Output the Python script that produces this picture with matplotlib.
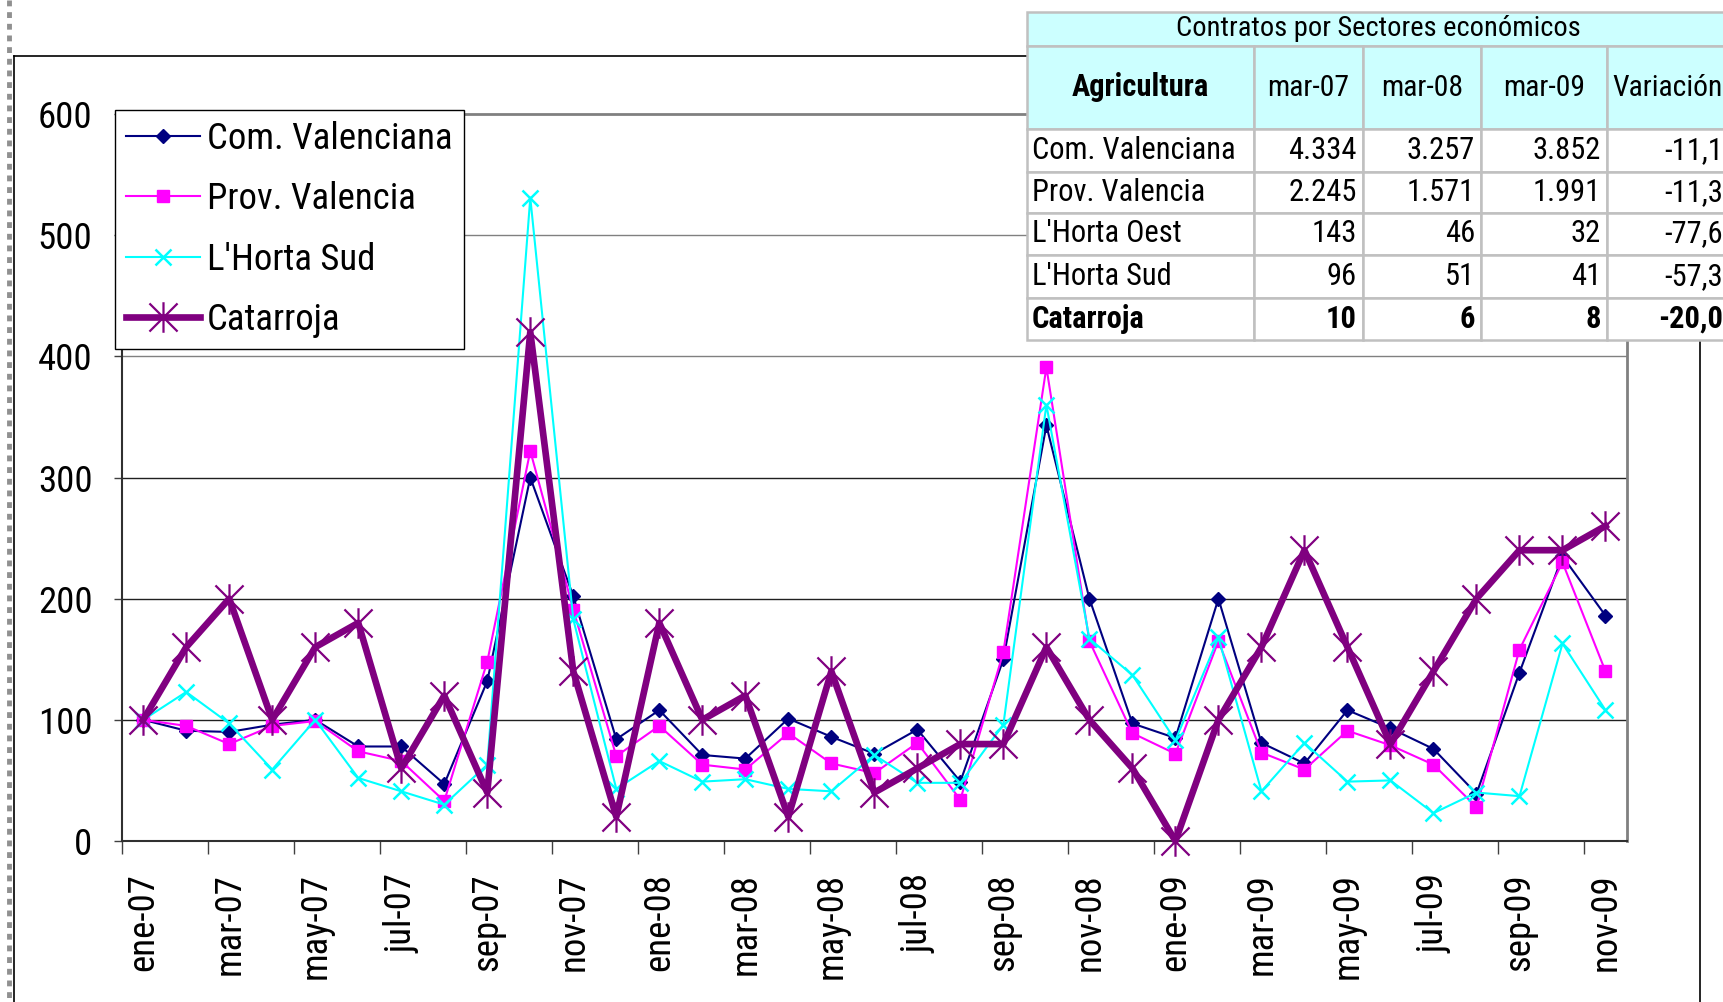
import matplotlib
matplotlib.use("Agg")
import matplotlib.pyplot as plt
from matplotlib import font_manager as fm
from matplotlib.path import Path
from matplotlib.patches import Rectangle
from matplotlib.lines import Line2D
import numpy as np

# ---------------- data ----------------
months = ["ene-07", "feb-07", "mar-07", "abr-07", "may-07", "jun-07", "jul-07", "ago-07",
          "sep-07", "oct-07", "nov-07", "dic-07",
          "ene-08", "feb-08", "mar-08", "abr-08", "may-08", "jun-08", "jul-08", "ago-08",
          "sep-08", "oct-08", "nov-08", "dic-08",
          "ene-09", "feb-09", "mar-09", "abr-09", "may-09", "jun-09", "jul-09", "ago-09",
          "sep-09", "oct-09", "nov-09"]

com_valenciana = [100, 91, 90, 96, 100, 78, 78, 47, 132, 300, 202, 84,
                  108, 71, 68, 101, 86, 72, 92, 49, 150, 343, 200, 97,
                  85, 200, 81, 64, 108, 93, 76, 39, 139, 235, 186]
prov_valencia = [100, 95, 80, 95, 99, 74, 66, 33, 148, 322, 191, 70,
                 95, 63, 59, 89, 64, 56, 81, 34, 156, 391, 165, 89,
                 72, 165, 73, 59, 91, 79, 63, 28, 158, 230, 140]
horta_sud = [100, 123, 97, 59, 100, 52, 41, 30, 63, 531, 183, 43,
             66, 49, 51, 43, 41, 71, 48, 48, 96, 360, 167, 137,
             83, 168, 41, 81, 49, 50, 23, 40, 37, 163, 108]
catarroja = [100, 160, 200, 100, 160, 180, 60, 120, 40, 420, 140, 20,
             180, 100, 120, 20, 140, 40, 60, 80, 80, 160, 100, 60,
             0, 100, 160, 240, 160, 80, 140, 200, 240, 240, 260]

series_names = ["Com. Valenciana", "Prov. Valencia", "L'Horta Sud", "Catarroja"]
y_ticks = [0, 100, 200, 300, 400, 500, 600]

table_title = "Contratos por Sectores económicos"
table_header = ["Agricultura", "mar-07", "mar-08", "mar-09", "Variación"]
table_rows = ["Com. Valenciana", "Prov. Valencia", "L'Horta Oest", "L'Horta Sud", "Catarroja"]
col_mar07 = ["4.334", "2.245", "143", "96", "10"]
col_mar08 = ["3.257", "1.571", "46", "51", "6"]
col_mar09 = ["3.852", "1.991", "32", "41", "8"]
col_var = ["-11,1", "-11,3", "-77,6", "-57,3", "-20,0"]

# ---------------- font: prefer a narrow / condensed sans ----------------
def find_condensed():
    prefs = ['Liberation Sans Narrow', 'Arial Narrow', 'Roboto Condensed', 'Noto Sans',
             'Open Sans', 'Roboto', 'DejaVu Sans', 'Lato', 'Inter']
    cond = []
    for f in fm.fontManager.ttflist:
        st = str(f.stretch).lower()
        nm = f.name
        fn = f.fname.lower()
        if ('condensed' in st or 'narrow' in nm.lower() or 'condensed' in nm.lower()
                or 'condensed' in fn or 'narrow' in fn):
            if 'extra' in st or 'ultra' in st or 'extracondensed' in fn or 'extra' in nm.lower():
                continue
            if f.style != 'normal':
                continue
            cond.append(f)
    for p in prefs:
        cands = [f for f in cond if f.name.startswith(p)]
        if not cands:
            continue
        reg = [f for f in cands if f.weight in (400, 'normal', 'regular')]
        bold = [f for f in cands if f.weight in (700, 'bold')]
        if reg:
            return reg[0].fname, (bold[0].fname if bold else reg[0].fname)
    return None, None

reg_path, bold_path = find_condensed()
if reg_path:
    def FP(size, bold=False):
        return fm.FontProperties(fname=bold_path if bold else reg_path, size=size)
    k = 1.0
else:
    def FP(size, bold=False):
        return fm.FontProperties(family=['Liberation Sans', 'DejaVu Sans'], size=size,
                                 weight='bold' if bold else 'normal')
    k = 0.86

# ---------------- figure ----------------
W, H = 1724, 1002
fig = plt.figure(figsize=(W / 100, H / 100), dpi=100)
fig.patch.set_facecolor('white')

def fx(p):
    return p / W

def fy(p):
    return 1 - p / H

L, R, B, T = 121.7, 1627, 841, 114
ax = fig.add_axes([fx(L), fy(B), fx(R) - fx(L), fy(T) - fy(B)])
x = np.arange(len(months))

star = Path([(0, -1), (0, 1), (-0.92, -0.92), (0.92, 0.92), (-0.92, 0.92), (0.92, -0.92)],
            [Path.MOVETO, Path.LINETO] * 3)

ax.plot(x, com_valenciana, color='#000080', lw=1.5, marker='D', ms=7.3,
        mfc='#000080', mec='#000080', label=series_names[0], clip_on=False, zorder=3)
ax.plot(x, prov_valencia, color='#FF00FF', lw=1.5, marker='s', ms=9.3,
        mfc='#FF00FF', mec='#FF00FF', label=series_names[1], clip_on=False, zorder=4)
ax.plot(x, horta_sud, color='#00FFFF', lw=1.5, marker='x', ms=11, mew=1.8,
        mec='#00FFFF', label=series_names[2], clip_on=False, zorder=5)
ax.plot(x, catarroja, color='#800080', lw=4.8, marker=star, ms=22, mew=1.6,
        mec='#800080', label=series_names[3], clip_on=False, zorder=6)

ax.set_xlim(-0.5, len(months) - 0.5)
ax.set_ylim(0, 600)

for v in y_ticks[1:-1]:
    ax.axhline(v, color='#202020' if v <= 300 else '#808080', lw=1.0, zorder=1)

ax.set_yticks(y_ticks)
ax.set_yticklabels([str(v) for v in y_ticks], fontproperties=FP(26.5 * k))
ax.tick_params(axis='y', direction='out', length=6, width=1, color='#404040', pad=15)

ax.set_xticks(x[::2])
ax.set_xticklabels(months[::2], rotation=90, va='top', ha='center', fontproperties=FP(26.5 * k))
ax.tick_params(axis='x', which='major', length=0, pad=23)
ax.set_xticks(np.arange(-0.5, len(months) - 1, 2), minor=True)
ax.tick_params(axis='x', which='minor', direction='out', length=9, width=1, color='#404040')

for s in ['left', 'bottom']:
    ax.spines[s].set_color('#303030')
    ax.spines[s].set_linewidth(1.5)
for s in ['top', 'right']:
    ax.spines[s].set_color('#808080')
    ax.spines[s].set_linewidth(2)

leg = ax.legend(loc='upper left', bbox_to_anchor=(fx(115), fy(110)), bbox_transform=fig.transFigure,
                fancybox=False, framealpha=1, edgecolor='black', borderaxespad=0,
                prop=FP(26.5 * k), handlelength=2.0, handletextpad=0.2, labelspacing=0.66,
                borderpad=0.3, numpoints=1)
leg.get_frame().set_linewidth(1.0)
leg.set_zorder(20)

# ---------------- chart area borders ----------------
fig.add_artist(Line2D([fx(14), fx(1030)], [fy(56), fy(56)], color='black', lw=1.2, transform=fig.transFigure))
fig.add_artist(Line2D([fx(14), fx(14)], [fy(56), fy(1002)], color='black', lw=1.2, transform=fig.transFigure))
fig.add_artist(Line2D([fx(1700), fx(1700)], [fy(340), fy(1002)], color='black', lw=1.2, transform=fig.transFigure))
fig.add_artist(Line2D([fx(9), fx(9)], [fy(0), fy(1002)], color='#909090', lw=3.5,
                      linestyle=(0, (1.2, 1.2)), transform=fig.transFigure))

# ---------------- table ----------------
col_x = [1027, 1254, 1363, 1481, 1607, 1729]
row_y = [12, 46, 129, 172, 213, 255, 298, 340]
cyan = '#CCFFFF'
grid_c = '#C0C0C0'

def cell(x0, y0, x1, y1, fc):
    fig.add_artist(Rectangle((fx(x0), fy(y1)), fx(x1) - fx(x0), fy(y0) - fy(y1),
                             transform=fig.transFigure, facecolor=fc, edgecolor=grid_c,
                             linewidth=1.8, zorder=10))

cell(col_x[0], row_y[0], col_x[-1], row_y[1], cyan)
fig.text(fx((col_x[0] + col_x[-1]) / 2), fy((row_y[0] + row_y[1]) / 2), table_title,
         ha='center', va='center', fontproperties=FP(20.5 * k), zorder=11)

for j in range(5):
    cell(col_x[j], row_y[1], col_x[j + 1], row_y[2], cyan)
    fig.text(fx((col_x[j] + col_x[j + 1]) / 2), fy((row_y[1] + row_y[2]) / 2), table_header[j],
             ha='center', va='center',
             fontproperties=FP((22 if j == 0 else 21.3) * k, bold=(j == 0)), zorder=11)

cols = [col_mar07, col_mar08, col_mar09, col_var]
for i, name in enumerate(table_rows):
    y0, y1 = row_y[2 + i], row_y[3 + i]
    yc = fy((y0 + y1) / 2)
    bold = (i == len(table_rows) - 1)
    for j in range(5):
        cell(col_x[j], y0, col_x[j + 1], y1, 'white')
    fig.text(fx(col_x[0] + 5), yc, name, ha='left', va='center', fontproperties=FP(22 * k, bold), zorder=11)
    for j, col in enumerate(cols):
        fig.text(fx(col_x[j + 2] - 6), yc, col[i], ha='right', va='center',
                 fontproperties=FP(22 * k, bold), zorder=11)

fig.savefig('out.png', dpi=100, facecolor='white')
